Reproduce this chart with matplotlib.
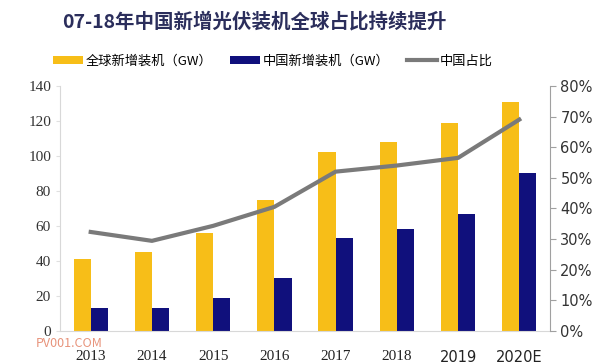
import numpy as np
import matplotlib.pyplot as plt

plt.rcParams['font.family'] = ['Noto Sans CJK SC', 'DejaVu Sans']

#数据
years = ["2013", "2014", "2015", "2016", "2017", "2018", "2019", "2020E"]
global_gw = [41, 45, 56, 75, 102, 108, 119, 131]
china_gw = [13, 13, 19, 30, 53, 58, 67, 90]
china_share = [32.3, 29.4, 34.3, 40.5, 52.0, 54.0, 56.5, 69.0]

yellow = "#F7BE18"
navy = "#10107C"
grey = "#7A7A7A"

fig = plt.figure(figsize=(6.01, 3.64), dpi=100)
ax = fig.add_axes([0.1, 0.091, 0.815, 0.673])
ax2 = ax.twinx()

x = np.arange(len(years))
w = 0.28
ax.bar(x - w/2, global_gw, w, color=yellow, label="全球新增装机（GW）")
ax.bar(x + w/2, china_gw, w, color=navy, label="中国新增装机（GW）")
ax2.plot(x, china_share, color=grey, lw=3, label="中国占比")

ax.set_xlim(-0.5, len(years) - 0.5)
ax.set_ylim(0, 140)
ax.set_yticks(np.arange(0, 141, 20))
ax2.set_ylim(0, 80)
ax2.set_yticks(np.arange(0, 81, 10))
ax2.set_yticklabels([f"{v}%" for v in range(0, 81, 10)])

ax.set_xticks(x)
ax.set_xticklabels(years)
for i, lab in enumerate(ax.get_xticklabels()):
    if i < 6:
        lab.set_family(['Liberation Serif'])
        lab.set_fontsize(11)
    else:
        lab.set_family(['DejaVu Sans'])
        lab.set_fontsize(10.5)
    lab.set_color("#222222")

for a in (ax, ax2):
    a.spines["top"].set_visible(False)
ax.spines["left"].set_color("#D8D8D8")
ax.spines["bottom"].set_color("#D8D8D8")
ax.spines["right"].set_visible(False)
ax2.spines["left"].set_visible(False)
ax2.spines["bottom"].set_visible(False)
ax2.spines["right"].set_color("#A0A0A0")

ax.tick_params(axis="y", length=3, color="#E0E0E0", labelsize=11, labelcolor="#333333")
ax.tick_params(axis="x", length=0, pad=14)
for lab in ax.get_yticklabels():
    lab.set_family(['Liberation Serif'])
ax2.tick_params(axis="y", length=4, color="#A0A0A0", labelsize=10.5, labelcolor="#333333")
for lab in ax2.get_yticklabels():
    lab.set_family(['DejaVu Sans'])

#标题
fig.text(0.103, 0.94, "07-18年中国新增光伏装机全球占比持续提升", fontsize=14,
         fontweight="bold", color="#2B2E5C", ha="left", va="center")

#图例
h1, l1 = ax.get_legend_handles_labels()
h2, l2 = ax2.get_legend_handles_labels()
fig.legend(h1 + h2, l1 + l2, loc="center left", bbox_to_anchor=(0.068, 0.832),
           ncol=3, frameon=False, fontsize=9.5, handlelength=2.3, handleheight=0.5,
           columnspacing=1.3, handletextpad=0.2)

#水印
fig.text(0.06, 0.055, "PV001.COM", fontsize=9, color="#E07050", alpha=0.75,
         ha="left", va="center")

fig.savefig("out.png", dpi=100)
